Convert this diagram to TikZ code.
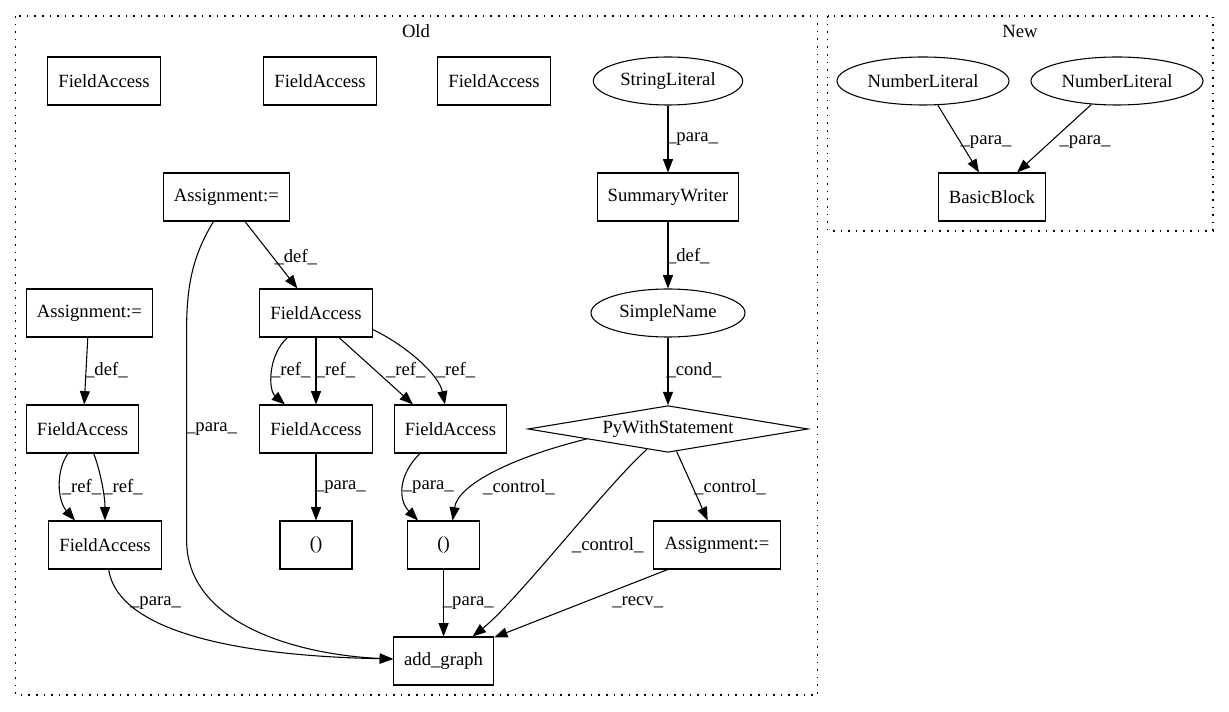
\documentclass[tikz,border=0pt]{standalone}
\usepackage{fontspec}
\setmainfont{Liberation Serif}
\usetikzlibrary{shapes.geometric,arrows.meta,calc}
\begin{document}
\begin{tikzpicture}[x=0.75pt,y=-0.75pt,
  every node/.style={font=\fontsize{14pt}{16pt}\selectfont},
  box/.style={draw, rectangle, line width=0.8pt, minimum height=36pt, minimum width=54pt, inner xsep=8pt, inner ysep=0pt},
  ell/.style={draw, ellipse, line width=0.8pt, minimum height=36pt, inner sep=1pt},
  dia/.style={draw, diamond, line width=0.8pt, minimum width=210pt, minimum height=35pt, aspect=6, inner sep=0pt},
  cluster/.style={draw, dash pattern=on 1.2pt off 4.5pt, line width=0.9pt},
  edge/.style={-{Triangle[length=10pt,width=7.5pt]}, line width=0.8pt},
  lbl/.style={inner sep=0pt}]
\useasboundingbox (0,0) rectangle (1229,712);

% clusters
\draw[cluster] (15.8,16) rectangle (817.5,695);
\node[lbl] (oldlbl) at (416,30.7) {Old};
\draw[cluster] (827.5,16) rectangle (1213,231);
\node[lbl] (newlbl) at (1020,31) {New};

% Old nodes
\node[box] (FA1) at (104,81) {FieldAccess};
\node[box] (FA2) at (320,81) {FieldAccess};
\node[box] (FA3) at (494,81) {FieldAccess};
\node[ell, minimum width=112pt] (SL) at (668,81) {StringLiteral};
\node[box] (SW) at (668,197) {SummaryWriter};
\node[box] (At) at (226.4,197) {Assignment:=};
\node[ell, minimum width=115.5pt] (SN) at (668,313) {SimpleName};
\node[box] (FAm) at (316,313) {FieldAccess};
\node[box] (Al) at (89.4,313) {Assignment:=};
\node[box] (FAl) at (82.6,429) {FieldAccess};
\node[box] (FAc1) at (316,429) {FieldAccess};
\node[box] (FAc2) at (450.4,429) {FieldAccess};
\node[dia] (PW) at (668,429) {PyWithStatement};
\node[box] (FAbl) at (105,545) {FieldAccess};
\node[box] (P1) at (316,545) {()};
\node[box] (P2) at (443.6,545) {()};
\node[box] (Ar) at (717,545) {Assignment:=};
\node[box] (ag) at (443.6,661) {add\_graph};

% New nodes
\node[ell, minimum width=129pt] (NL1) at (923,81) {NumberLiteral};
\node[ell, minimum width=129pt] (NL2) at (1117,81) {NumberLiteral};
\node[box] (BB) at (992,197) {BasicBlock};

% Old edges
\draw[edge] (SL) -- (SW);
\node[lbl] (l1) at (692.5,139) {\_para\_};
\draw[edge] (SW) -- (SN);
\node[lbl] (l2) at (688.3,256) {\_def\_};
\draw[edge] (SN) -- (PW);
\node[lbl] (l3) at (694,370.7) {\_cond\_};
\draw[edge] (PW.187) .. controls (510,458) and (458,485) .. ($(P2.north)+(9,0)$);
\node[lbl] (l4) at (519,487.3) {\_control\_};
\draw[edge] (PW.224) .. controls (606,486) and (517,601) .. ($(ag.north)+(29,0)$);
\node[lbl] (l5) at (607.7,545) {\_control\_};
\draw[edge] (PW.-69) -- ($(Ar.north)+(-9.3,0)$);
\node[lbl] (l6) at (730,487) {\_control\_};
\draw[edge] ($(Ar.south)+(-49.3,0)$) -- ($(ag.north east)+(0,1)$);
\node[lbl] (l7) at (637.7,602.7) {\_recv\_};
\draw[edge] (P2) -- (ag);
\node[lbl] (l8) at (468.3,602.7) {\_para\_};
\draw[edge] ($(FAc2.south)+(-30.4,0)$) .. controls (398,475) and (398,500) .. ($(P2.north)+(-25.6,0)$);
\node[lbl] (l9) at (428.3,487) {\_para\_};
\draw[edge] (FAc1) -- (P1);
\node[lbl] (l10) at (340.4,487) {\_para\_};
\draw[edge] ($(FAm.south)+(-28.5,0)$) .. controls (268,355) and (268,390) .. ($(FAc1.north)+(-31,0)$);
\node[lbl] (l11) at (290.7,370) {\_ref\_};
\draw[edge] (FAm) -- (FAc1);
\node[lbl] (l12) at (335.4,370) {\_ref\_};
\draw[edge] ($(FAm.south)+(23,0)$) -- ($(FAc2.north)+(-37.4,0)$);
\node[lbl] (l13) at (405.8,370) {\_ref\_};
\draw[edge] ($(FAm.south east)+(0,-8)$) .. controls (407,346) and (439,375) .. ($(FAc2.north)+(-5.4,0)$);
\node[lbl] (l14) at (455.6,370) {\_ref\_};
\draw[edge] ($(Al.south)+(-1.6,0)$) -- ($(FAl.north)+(1.6,0)$);
\node[lbl] (l15) at (106.4,370) {\_def\_};
\draw[edge] ($(FAl.south)+(-14.6,0)$) .. controls (56,470) and (57,500) .. ($(FAbl.north)+(-30,0)$);
\node[lbl] (l16) at (81.5,486.7) {\_ref\_};
\draw[edge] ($(FAl.south)+(11.1,0)$) .. controls (100,470) and (105,495) .. (FAbl.north);
\node[lbl] (l17) at (123,487) {\_ref\_};
\draw[edge] ($(FAbl.south)+(3.7,0)$) .. controls (116,620) and (200,655) .. ($(ag.west)+(0,-2)$);
\node[lbl] (l18) at (155.5,602.7) {\_para\_};
\coordinate (bendA) at (186.6,330);
\coordinate (bendB) at (186.6,540);
\draw[edge] ($(At.south)+(-12.9,0)$) .. controls (193,255) and (186.6,285) .. (bendA) -- (bendB) .. controls (186.6,625) and (300,655) .. ($(ag.west)+(0,-2)$);
\node[lbl] (l19) at (211.5,429) {\_para\_};
\draw[edge] ($(At.south)+(18.6,0)$) -- ($(FAm.north)+(-18.6,0)$);
\node[lbl] (l20) at (295.8,256.7) {\_def\_};

% New edges
\draw[edge] (NL1) -- ($(BB.north)+(-13,0)$);
\node[lbl] (l21) at (986,141.7) {\_para\_};
\draw[edge] (NL2) -- ($(BB.north)+(25,0)$);
\node[lbl] (l22) at (1085,141.7) {\_para\_};
\end{tikzpicture}
\end{document}
